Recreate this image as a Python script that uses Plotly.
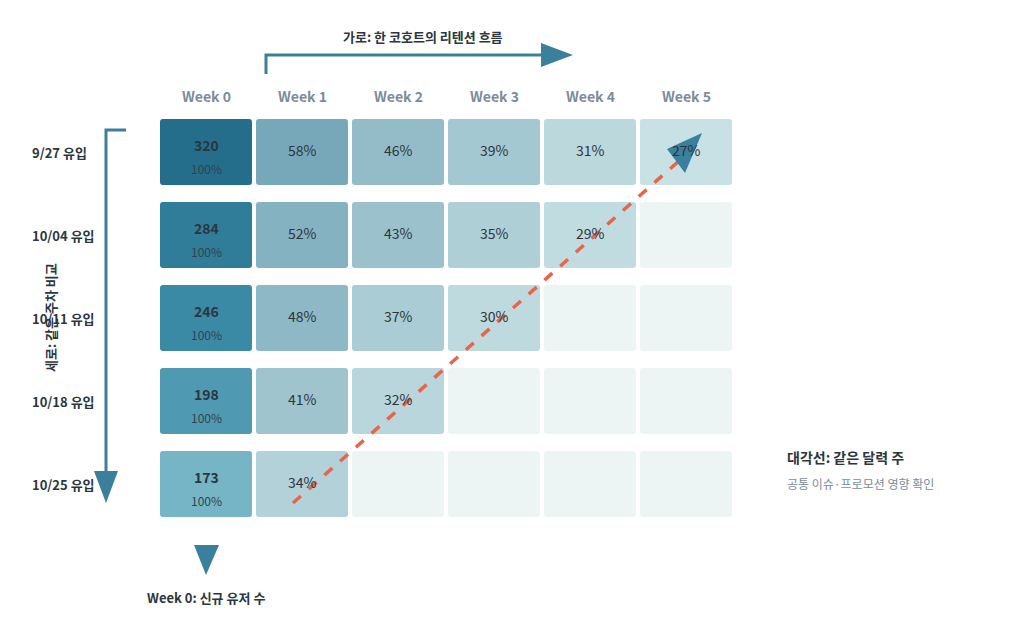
import plotly.graph_objects as go

cohorts = ["9/27 유입", "10/04 유입", "10/11 유입", "10/18 유입", "10/25 유입"]
weeks = ["Week 0", "Week 1", "Week 2", "Week 3", "Week 4", "Week 5"]
new_users = [320, 284, 246, 198, 173]
retention = [
    [100, 58, 46, 39, 31, 27],
    [100, 52, 43, 35, 29],
    [100, 48, 37, 30],
    [100, 41, 32],
    [100, 34],
]

def px(x): return (x - 198) / 96
def py(y): return (y - 144) / 83

dark = (0x23, 0x6d, 0x8b)
light = (0xd2, 0xe8, 0xea)
def col(v):
    t = max(0, min(1, (v - 25) / 75)) ** 0.8
    c = [round(light[i] + (dark[i] - light[i]) * t) for i in range(3)]
    return "rgb(%d,%d,%d)" % tuple(c)
w0cols = ["#246e8c", "#2f7d99", "#3a8aa5", "#5099b3", "#76b5c5"]

def rrect(x0, y0, x1, y1, r=0.03, ry=0.04):
    return (f"M{x0+r},{y0} L{x1-r},{y0} Q{x1},{y0} {x1},{y0+ry} L{x1},{y1-ry} Q{x1},{y1} {x1-r},{y1} "
            f"L{x0+r},{y1} Q{x0},{y1} {x0},{y1-ry} L{x0},{y0+ry} Q{x0},{y0} {x0+r},{y0} Z")

shapes, ann = [], []
hw, hh = 46 / 96, 33 / 83
for r in range(len(cohorts)):
    for c in range(len(weeks)):
        vals = retention[r]
        if c < len(vals):
            fill = w0cols[r] if c == 0 else col(vals[c])
        else:
            fill = "#edf5f4"
        shapes.append(dict(type="path", path=rrect(c - hw, r - hh, c + hw, r + hh), fillcolor=fill,
                           line=dict(width=0), layer="below"))
        if c == 0:
            ann.append(dict(x=0, y=r - 0.08, text=f"<b>{new_users[r]}</b>", showarrow=False,
                            font=dict(size=14, color="#2b3640")))
            ann.append(dict(x=0, y=r + 0.2, text="100%", showarrow=False, font=dict(size=12, color="#33424d")))
        elif c < len(vals):
            ann.append(dict(x=c, y=r - 0.03, text=f"{vals[c]}%", showarrow=False, font=dict(size=14, color="#2b3640")))
    ann.append(dict(x=px(22), y=r, xanchor="left", text=f"<b>{cohorts[r]}</b>", showarrow=False,
                    font=dict(size=13, color="#2b3640")))
for c, w in enumerate(weeks):
    ann.append(dict(x=c, y=py(88), text=f"<b>{w}</b>", showarrow=False, font=dict(size=14, color="#7c8b9b")))

blue = "#3a7f9c"
def line(pts, color=blue, width=3, dash=None):
    p = "M" + " L".join(f"{px(a)},{py(b)}" for a, b in pts)
    d = dict(type="path", path=p, line=dict(color=color, width=width))
    if dash: d["line"]["dash"] = dash
    return d
def tri(pts):
    p = "M" + " L".join(f"{px(a)},{py(b)}" for a, b in pts) + " Z"
    return dict(type="path", path=p, fillcolor=blue, line=dict(width=0))

shapes += [
    line([(258, 66), (258, 47), (535, 47)]), tri([(533, 35), (565, 47), (533, 59)]),
    line([(118, 122), (98, 122), (98, 468)]), tri([(86, 463), (110, 463), (98, 495)]),
    tri([(186, 537), (211, 537), (198, 567)]),
    line([(285, 495), (672, 152)], color="#e8654a", width=3.5, dash="dash"),
    tri([(659, 141), (694, 125), (677, 165)]),
]
ann += [
    dict(x=px(415), y=py(28), text="<b>가로: 한 코호트의 리텐션 흐름</b>", showarrow=False, font=dict(size=13, color="#2b3640")),
    dict(x=px(42), y=py(310), text="<b>세로: 같은 주차 비교</b>", textangle=-90, showarrow=False, font=dict(size=13, color="#2b3640")),
    dict(x=px(198), y=py(589), text="<b>Week 0: 신규 유저 수</b>", showarrow=False, font=dict(size=13, color="#2b3640")),
    dict(x=px(777), y=py(449), xanchor="left", text="<b>대각선: 같은 달력 주</b>", showarrow=False, font=dict(size=14, color="#2b3640")),
    dict(x=px(777), y=py(475), xanchor="left", text="공통 이슈·프로모션 영향 확인", showarrow=False, font=dict(size=12, color="#7c8b9b")),
]

fig = go.Figure()
fig.add_trace(go.Scatter(x=[0], y=[0], mode="markers", marker=dict(opacity=0), hoverinfo="skip", showlegend=False))
fig.update_layout(width=1024, height=627, margin=dict(l=0, r=0, t=0, b=0), plot_bgcolor="white", paper_bgcolor="white",
                  shapes=shapes, annotations=ann, font=dict(family="Noto Sans CJK KR, Liberation Sans, sans-serif"),
                  xaxis=dict(range=[px(0), px(1024)], visible=False, fixedrange=True),
                  yaxis=dict(range=[py(627), py(0)], visible=False, fixedrange=True))
fig.write_html("out.html")
